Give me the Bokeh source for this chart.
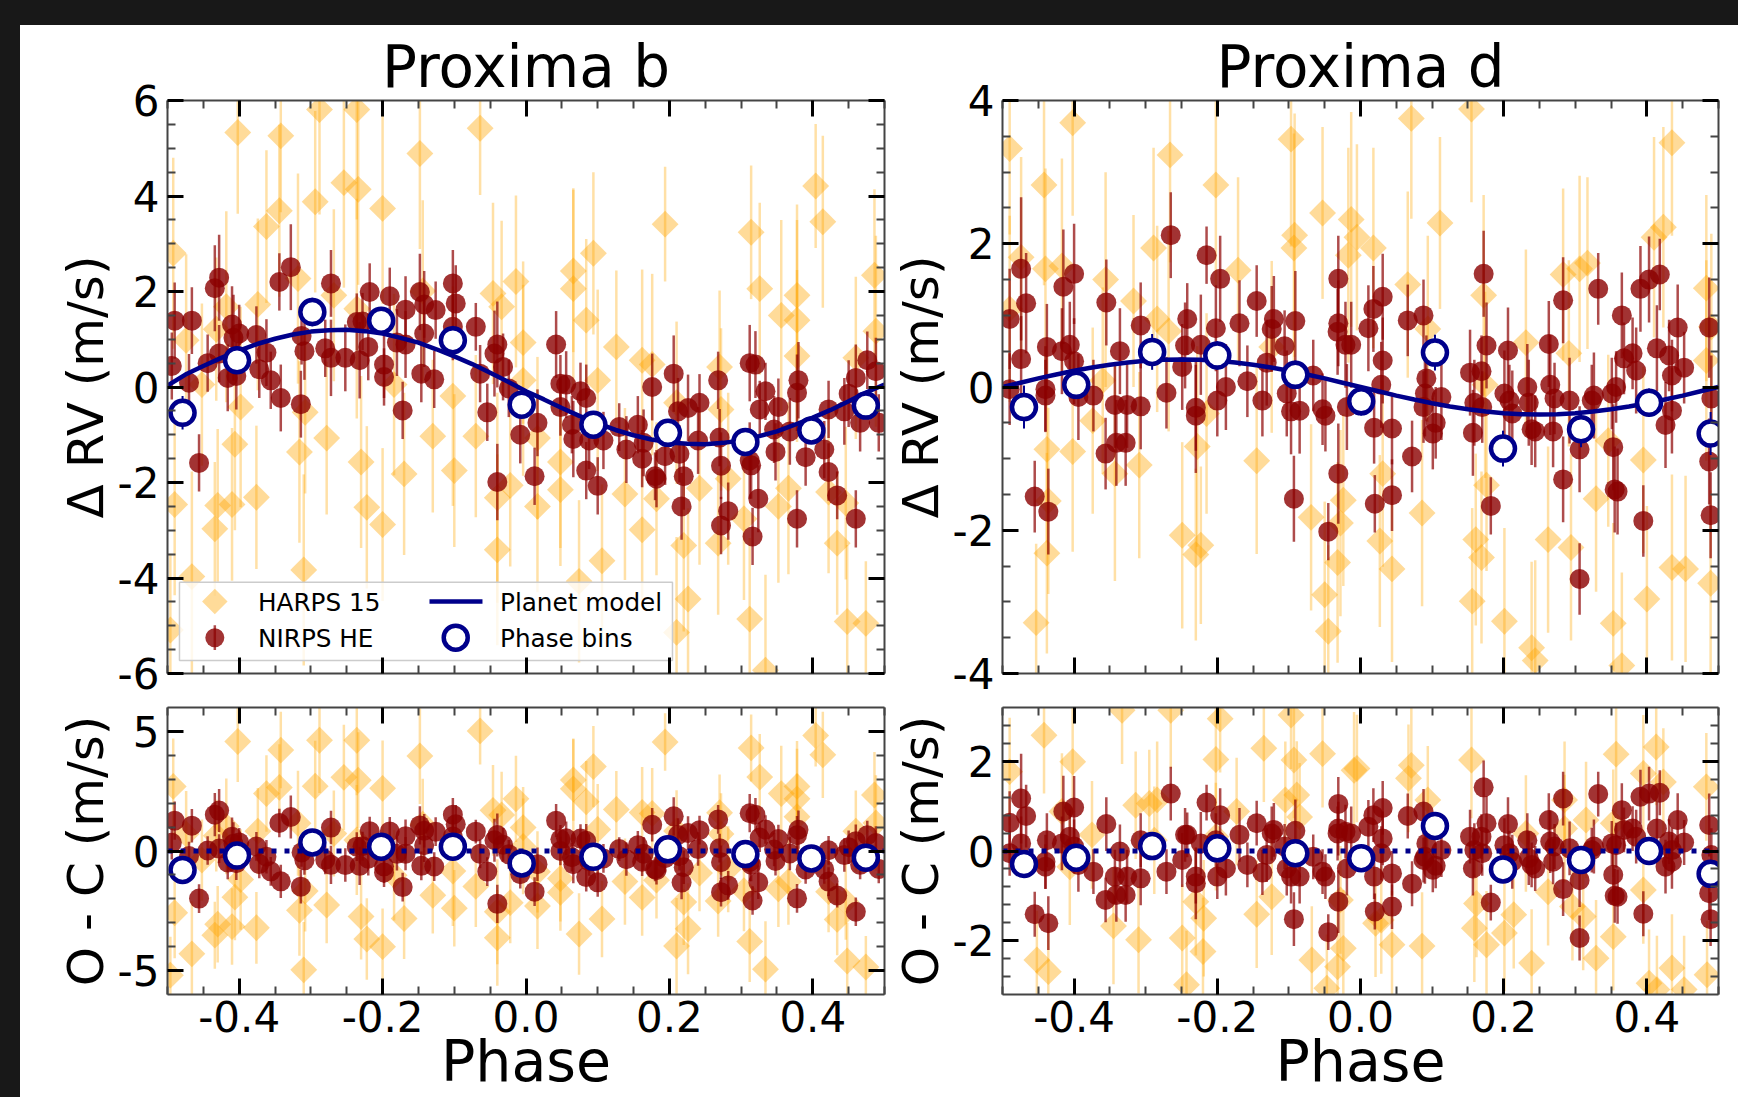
import numpy as np
from bokeh.plotting import figure
from bokeh.layouts import column, row
from bokeh.models import LinearAxis, FixedTicker, Range1d, Legend, LegendItem
from bokeh.embed import file_html
from bokeh.resources import INLINE

# ---- tick labels
x_major = [-0.4, -0.2, 0.0, 0.2, 0.4]
x_minor = [-0.5, -0.45, -0.35, -0.3, -0.25, -0.15, -0.1, -0.05, 0.05, 0.1, 0.15, 0.25, 0.3, 0.35, 0.45, 0.5]
x_labels = {-0.4: "-0.4", -0.2: "-0.2", 0.0: "0.0", 0.2: "0.2", 0.4: "0.4"}

# ---- model curves
model_phase = [-.5,-.475,-.45,-.425,-.4,-.375,-.35,-.325,-.3,-.275,-.25,-.225,-.2,-.175,-.15,-.125,-.1,-.075,-.05,-.025,0,
               .025,.05,.075,.1,.125,.15,.175,.2,.225,.25,.275,.3,.325,.35,.375,.4,.425,.45,.475,.5]
b_model = [.03,.26,.44,.61,.76,.90,1.01,1.10,1.16,1.19,1.20,1.17,1.12,1.03,.93,.79,.64,.48,.30,.11,-.09,
           -.26,-.44,-.61,-.76,-.90,-1.01,-1.10,-1.16,-1.19,-1.20,-1.17,-1.12,-1.03,-.93,-.79,-.64,-.48,-.30,-.11,.05]
d_model = [0,.06,.12,.175,.226,.272,.311,.343,.366,.38,.385,.38,.366,.343,.311,.272,.226,.175,.12,.06,0,
           -.06,-.12,-.175,-.226,-.272,-.311,-.343,-.366,-.38,-.385,-.38,-.366,-.343,-.311,-.272,-.226,-.175,-.12,-.06,0]
zero_phase = [-.5, .5]
zero_line = [0, 0]

# ---- Proxima b, NIRPS HE
b_nirps_phase = [-.494,-.490,-.466,-.470,-.456,-.444,-.434,-.428,-.428,-.416,
 -.410,-.408,-.400,-.404,-.376,-.372,-.362,-.356,-.344,-.342,
 -.328,-.314,-.313,-.309,-.280,-.272,-.272,-.252,-.232,-.236,
 -.228,-.220,-.218,-.198,-.198,-.190,-.180,-.168,-.168,-.172,
 -.148,-.142,-.142,-.146,-.128,-.126,-.102,-.098,-.102,-.070,
 -.064,-.054,-.040,-.044,-.032,-.024,-.040,-.008,.012,.016,
 .042,.048,.048,.056,.064,.066,.076,.084,.084,.088,
 .100,.108,.130,.140,.156,.162,.164,.176,.180,.182,
 .194,.206,.212,.214,.220,.217,.226,.240,.242,.268,
 .270,.272,.272,.282,.312,.320,.312,.314,.324,.316,
 .326,.334,.348,.352,.346,.368,.378,.380,.378,.390,
 .416,.422,.422,.434,.444,.450,.460,.460,.466,.476,
 .488,.492]
b_nirps_rv = [.44,1.39,1.39,.09,-1.59,.50,2.07,2.29,.70,.19,
 1.31,1.03,1.12,.23,1.09,.37,.72,.14,2.20,-.23,
 2.51,-.36,1.07,.75,.81,2.17,.61,.61,.56,1.36,
 1.37,.84,1.99,.47,.21,1.90,.93,1.62,.89,-.49,
 1.99,1.73,1.12,.28,.16,1.61,2.17,1.75,1.26,1.26,
 .28,-.53,.89,.70,.42,-.03,-1.99,-1.00,-1.87,-.75,
 .89,.07,-.42,.05,-.79,-1.09,-.09,-.23,-1.75,-1.12,
 -2.07,-1.12,-.84,-1.31,-.79,-1.50,-1.17,0,-1.87,-1.92,
 -1.45,.28,-.51,-1.40,-1.87,-2.50,-.44,-1.12,-.33,.14,
 -1.06,-1.65,-2.90,-2.60,.50,.47,-1.54,-1.64,-2.34,-3.13,
 -.47,-.09,-1.36,-.42,-.89,-.93,-2.76,.14,-.12,-1.47,
 -1.31,-1.78,-.47,-2.27,-.51,-.14,.19,-2.76,-.75,.56,
 .33,-.75]
b_nirps_res = [.34,1.27,1.06,-.21,-1.99,.02,1.52,1.69,.10,-.48,
 .60,.30,.36,-.51,.19,-.54,-.24,-.85,1.17,-1.27,
 1.42,-1.49,-.06,-.39,-.37,.98,-.58,-.59,-.62,.18,
 .20,-.32,.83,-.64,-.90,.82,-.12,.62,-.11,-1.51,
 1.07,.85,.24,-.62,-.65,.81,1.52,1.12,.61,.81,
 -.12,-.86,.67,.45,.26,-.14,-2.21,-.97,-1.70,-.55,
 1.27,.49,0,.53,-.26,-.55,.52,.43,-1.09,-.43,
 -1.31,-.31,.08,-.34,.24,-.45,-.11,1.10,-.76,-.80,
 -.30,1.45,.67,-.22,-.68,-1.32,.75,.08,.87,1.32,
 .12,-.47,-1.72,-1.44,1.58,1.52,-.46,-.57,-1.31,-2.07,
 .56,.90,-.42,.50,.06,-.10,-1.98,.89,.66,-.77,
 -.77,-1.28,.03,-1.86,-.17,.16,.41,-2.54,-.58,.66,
 .33,-.75]
b_nirps_err = [.7,.8,.7,.6,.6,.6,.9,.9,.6,.7,
 .8,.9,.6,.7,.6,.6,.7,.6,.6,.7,
 .9,.7,.6,.6,.6,.7,.8,.7,.8,.6,
 .6,.7,.6,.7,.6,.6,.7,.7,.7,.6,
 .8,.7,.7,.6,.6,.6,.7,.8,.7,.5,
 .6,.6,.9,.9,.7,.6,.8,.6,.6,.7,
 .7,.6,.6,.7,.6,.8,.6,.7,.6,.6,
 .6,.6,.5,.7,.6,.6,.7,.7,.5,.6,
 .6,.8,.7,.6,.7,.7,.7,.7,.6,.6,
 .6,.7,.6,.6,.8,.7,.8,.7,.7,.6,
 .6,.6,.6,.6,.7,.7,.6,.8,.8,.6,
 .6,.6,.6,.5,.7,.7,.7,.6,.6,.6,
 .7,.6]

# ---- Proxima b, HARPS 15
b_harps_phase = [-.492,-.49,-.496,-.474,-.466,-.452,-.434,-.43,-.432,-.418,
 -.41,-.406,-.402,-.398,-.376,-.374,-.362,-.344,-.342,-.318,
 -.316,-.31,-.308,-.294,-.288,-.278,-.268,-.254,-.236,-.234,
 -.23,-.222,-.2,-.2,-.236,-.184,-.17,-.148,-.144,-.13,
 -.102,-.1,-.07,-.064,-.046,-.04,-.04,-.034,-.022,-.014,
 -.004,-.004,.016,.016,.048,.048,.066,.066,.074,.084,
 .094,.1,.106,.126,.138,.162,.162,.176,.182,.194,
 .21,.21,.22,.226,.242,.268,.27,.272,.282,.304,
 .312,.314,.326,.334,.352,.356,.366,.378,.378,.378,
 .404,.414,.422,.434,.446,.448,.46,.474,.486,.488]
b_harps_rv = [2.80,-2.46,-5.09,.98,-3.97,.05,-2.97,-2.48,1.21,1.68,
 -2.46,-1.20,5.33,-.42,-2.31,1.73,3.36,3.69,5.26,2.27,
 -1.36,-3.83,-.53,3.88,5.81,-1.07,1.92,4.28,5.81,4.14,
 -1.57,-2.52,3.74,-2.88,1.64,.05,-1.82,4.89,2.01,-1.03,
 -.19,-1.75,-1.03,5.42,1.96,-3.41,-2.32,1.68,-2.06,2.21,
 .93,.14,-2.50,-1.07,-1.57,-2.15,2.43,2.06,-4.07,1.40,
 2.80,.14,-3.64,.84,-2.24,.56,-2.99,.47,-2.34,3.41,
 -.33,-5.14,-3.32,-4.44,-2.12,-3.27,.42,-.47,-1.92,-2.76,
 -4.86,3.24,2.06,-5.93,-2.50,1.50,-2.12,1.40,1.92,.65,
 4.21,3.46,-2.20,-3.27,-2.43,-4.91,.61,-4.95,2.34,1.17]
b_harps_res = [2.70,-2.58,-5.19,.71,-4.30,-.38,-3.52,-3.06,.64,1.03,
 -3.16,-1.93,4.58,-1.19,-3.21,.83,2.40,2.66,4.22,1.16,
 -2.48,-4.97,-1.67,2.71,4.63,-2.26,.73,3.08,4.63,2.96,
 -2.74,-3.68,2.62,-4.00,.46,-1.01,-2.82,3.97,1.12,-1.85,
 -.84,-2.39,-1.48,5.02,1.70,-3.63,-2.54,1.51,-2.16,2.18,
 .98,.19,-2.30,-.87,-1.15,-1.73,2.97,2.60,-3.47,2.06,
 3.53,.90,-2.84,1.74,-1.28,1.61,-1.94,1.57,-1.22,4.56,
 .84,-3.97,-2.13,-3.25,-.92,-2.09,1.60,.71,-.76,-1.66,
 -3.78,4.31,3.09,-4.94,-1.58,2.40,-1.28,2.18,2.70,1.43,
 4.83,4.02,-1.70,-2.86,-2.11,-4.60,.83,-4.85,2.34,1.17]
b_harps_err = [2.0,1.9,1.6,1.8,2.2,1.7,1.4,1.6,1.5,2.0,
 1.6,1.8,1.7,2.1,1.5,1.8,1.6,1.8,1.6,2.2,
 1.9,2.0,1.7,1.9,2.2,1.6,1.8,2.2,2.3,2.0,
 1.8,1.7,2.0,1.6,2.3,1.9,1.7,2.0,1.9,1.6,
 2.3,1.6,1.7,1.4,1.9,2.0,2.2,1.8,1.7,1.8,
 1.7,2.0,1.8,1.7,1.8,1.6,1.7,2.1,1.7,1.7,
 1.7,1.9,1.6,1.6,1.8,1.9,1.6,1.9,1.6,1.2,
 1.7,2.0,1.8,1.9,1.6,1.5,1.6,1.7,1.8,1.7,
 1.7,1.4,1.8,2.0,1.6,2.0,1.8,2.1,1.9,1.8,
 1.3,1.8,1.7,1.5,1.6,1.6,1.7,1.3,1.8,2.0]

b_bin_phase = [-.479,-.403,-.298,-.202,-.102,-.006,.094,.198,.306,.398,.474]
b_bin_rv = [-.54,.56,1.57,1.39,.98,-.37,-.79,-.96,-1.15,-.91,-.39]
b_bin_res = [-.79,-.19,.36,.18,.18,-.52,-.24,.07,-.13,-.31,-.28]
b_bin_err = [.35,.25,.3,.25,.3,.2,.2,.2,.25,.2,.2]

# ---- Proxima d, NIRPS HE
d_nirps_phase = [-.490,-.49,-.474,-.474,-.467,-.455,-.44,-.44,-.438,-.436,
 -.415,-.417,-.406,-.4,-.4,-.394,-.373,-.355,-.356,-.343,
 -.341,-.336,-.328,-.326,-.307,-.307,-.271,-.265,-.249,-.245,
 -.242,-.23,-.23,-.223,-.215,-.202,-.2,-.196,-.188,-.169,
 -.158,-.145,-.137,-.131,-.124,-.121,-.106,-.103,-.097,-.093,
 -.091,-.085,-.066,-.053,-.049,-.045,-.031,-.031,-.031,-.032,
 -.021,-.013,-.019,.011,.018,.019,.02,.031,.031,.029,
 .044,.044,.066,.072,.088,.092,.09,.088,.101,.105,
 .113,.153,.159,.157,.169,.17,.172,.176,.182,.201,
 .206,.208,.212,.233,.235,.239,.244,.263,.265,.269,
 .271,.283,.283,.292,.306,.306,.323,.332,.326,.353,
 .351,.357,.359,.355,.365,.368,.38,.385,.391,.395,
 .403,.414,.418,.426,.431,.435,.435,.443,.452,.487,
 .487,.489,.49]
d_nirps_rv = [.95,-.03,1.65,.39,1.17,-1.53,-.03,-.12,.56,-1.74,
 1.40,.50,.59,1.58,.36,-.14,-.12,1.18,-.93,-.25,
 -.78,.50,-.78,-.25,.86,-.27,-.08,2.12,.28,.58,
 .95,-.29,-.40,.59,1.84,.82,-.19,1.51,0,.89,
 .08,1.20,-.19,.34,.81,.95,.57,-.09,-.34,-1.56,
 .92,-.33,.16,-.31,-.40,-2.02,1.51,.89,-1.21,.77,
 .59,.59,-.28,.82,1.09,-.57,-1.63,1.26,.37,.03,
 -.58,-1.51,.93,-.97,1.00,.12,-.09,-.28,-.65,-.50,
 -.14,.20,-.22,-.64,.22,-.28,1.58,.58,-1.66,-.09,
 .51,-.19,-.37,0,-.22,-.59,-.62,.60,.03,-.62,
 -.16,1.21,-1.29,-.19,-.87,-2.68,-.19,1.37,-.12,-.84,
 -.09,0,-1.46,-1.43,1.00,.40,.47,.23,1.37,-1.87,
 1.50,.54,1.57,-.53,.44,.16,-.33,.83,.27,.83,
 -1.04,-1.79,-.16]
d_nirps_res = [.63,-.05,1.17,.17,.78,-1.41,-.24,-.35,.24,-1.61,
 .88,.17,.32,.97,.10,-.31,-.46,.60,-1.09,-.57,
 -.98,-.01,-.98,-.57,.24,-.61,-.46,1.28,-.20,.36,
 .36,-.57,-.72,.17,1.08,.24,-.57,.80,-.39,.36,
 -.31,.62,-.48,-.09,.39,.47,.10,-.39,-.57,-1.52,
 .45,-.57,-.13,-.46,-.57,-1.81,1.05,.50,-1.13,.39,
 .43,.39,-.39,.54,.80,-.57,-1.35,.96,.28,-.05,
 -.50,-1.24,.78,-.73,.88,.17,-.13,-.20,-.42,-.33,
 .02,.32,.02,-.39,.32,-.05,1.42,.62,-1.15,.13,
 .60,-.05,-.24,.24,-.16,-.31,-.39,.69,.21,-.24,
 .10,1.17,-.85,.06,-.65,-1.94,.02,1.27,.10,-.53,
 .17,.13,-1.02,-1.00,.91,.47,.50,.32,1.21,-1.40,
 1.28,.50,1.30,-.35,.21,.02,-.24,.69,.19,.58,
 -.94,-1.52,-.09]
d_nirps_err = [.7,.5,1.0,.6,.7,.5,.6,.5,.6,.6,
 .8,.6,.6,.7,.6,.6,.5,.6,.5,.6,
 .6,.6,.6,.6,.6,.6,.5,.6,.6,.6,
 .5,.6,.8,.7,.4,.6,.5,.6,.6,.6,
 .5,.5,.5,.6,.6,.6,.5,.6,.6,.6,
 .7,.6,.5,.5,.5,.4,.6,.6,.7,.6,
 .6,.6,.6,.6,.6,.5,.4,.6,.6,.6,
 .5,.5,.5,.5,.5,.6,.6,.5,.5,.5,
 .6,.6,.6,.6,.5,.5,.6,.6,.4,.6,
 .6,.5,.6,.6,.6,.5,.5,.6,.7,.5,
 .5,.6,.6,.6,.6,.5,.5,.5,.6,.6,
 .5,.5,.6,.6,.6,.5,.5,.6,.6,.5,
 .6,.6,.5,.6,.5,.5,.6,.6,.5,.7,
 .6,.6,.6]

# ---- Proxima d, HARPS 15 (upper panel)
d_harps_phase = [-.49,-.49,-.474,-.453,-.442,-.44,-.438,-.438,-.436,-.417,
 -.402,-.402,-.374,-.356,-.36,-.343,-.317,-.309,-.289,-.284,
 -.266,-.268,-.249,-.23,-.223,-.228,-.215,-.202,-.171,-.145,
 -.124,-.097,-.092,-.093,-.069,-.053,-.05,-.045,-.032,-.024,
 -.028,-.013,-.017,-.005,.018,.027,.031,.044,.066,.071,
 .086,.094,.111,.155,.156,.161,.169,.172,.176,.174,
 .201,.231,.239,.244,.262,.283,.291,.294,.306,.317,
 .329,.346,.353,.365,.395,.4,.41,.423,.435,.435,
 .454,.483,.483,.489,.49]
d_harps_rv = [3.33,1.09,1.81,-3.29,2.82,1.65,-.87,-2.32,-1.59,1.69,
 3.69,-.90,-.47,1.50,.09,-1.21,1.20,-1.09,1.94,.95,
 3.24,.78,-2.07,-2.34,-2.21,-.83,-.37,2.82,1.63,-1.03,
 .56,3.46,2.12,1.94,-1.82,2.43,-2.90,-3.41,-2.45,-1.58,
 -1.90,2.34,1.84,2.09,1.94,-2.15,-1.21,-2.54,1.43,3.75,
 -1.76,.81,2.29,3.88,-2.99,-2.13,-2.38,1.28,-1.37,.03,
 -3.27,.62,-3.64,-3.82,-2.13,1.57,.47,-2.24,1.65,1.73,
 -1.56,-.75,-3.30,-3.89,-1.02,-2.96,2.09,2.23,3.41,-2.52,
 -2.54,1.38,.37,-2.74,.84]
d_harps_err = [1.2,1.3,1.4,1.1,1.4,1.4,1.3,1.4,1.3,1.5,
 1.3,1.4,1.3,1.5,1.3,1.5,1.2,1.3,1.4,1.3,
 1.5,1.4,1.3,1.2,1.1,1.4,1.4,1.4,1.3,1.3,
 1.2,1.5,1.7,1.6,1.3,1.2,1.3,1.2,1.4,1.2,
 1.3,1.5,1.5,1.3,1.4,1.2,1.3,1.3,1.3,1.4,
 1.3,1.3,1.2,1.3,1.3,1.2,1.2,1.4,1.2,1.3,
 1.3,1.3,1.2,1.4,1.3,1.2,1.3,1.3,1.3,1.2,
 1.3,1.2,1.4,1.3,1.3,1.3,1.4,1.4,1.3,1.3,
 1.3,1.3,1.4,1.3,1.3]

# ---- Proxima d, HARPS 15 (lower panel)
d_harps_res_phase = [-.49,-.452,-.442,-.436,-.417,-.402,-.406,-.375,-.345,-.31,
 -.314,-.295,-.284,-.288,-.265,-.249,-.243,-.23,-.219,-.22,
 -.202,-.196,-.202,-.173,-.145,-.135,-.124,-.105,-.097,-.093,
 -.085,-.089,-.068,-.053,-.047,-.032,-.024,-.028,-.009,-.005,
 .021,.029,.044,.067,.071,.086,.094,.159,.155,.162,
 .176,.201,.214,.231,.239,.262,.285,.285,.296,.311,
 .315,.329,.353,.357,.353,.395,.395,.403,.413,.423,
 .435,.452,.483,.484,.414,-.333]
d_harps_res = [1.77,-2.43,2.58,-2.69,.88,1.99,-.35,.36,-1.67,-1.98,
 1.02,1.06,1.14,.24,3.14,-1.94,-2.98,-1.13,-1.50,-2.24,
 2.04,2.95,.32,.88,-1.41,2.29,-1.02,1.14,3.03,2.03,
 .76,1.25,-2.43,2.17,-3.06,-2.58,-2.17,-1.09,1.80,1.84,
 -1.61,-1.54,-2.09,1.62,1.91,-2.12,1.14,-1.72,2.03,-1.17,
 -2.09,-1.83,-1.42,.39,-2.50,-.91,.50,1.14,-1.24,-1.46,
 .69,-2.39,-1.91,2.16,.62,1.73,-.87,-2.95,2.32,1.54,
 -2.61,-3.09,1.43,-2.76,-3.09,3.14]
d_harps_res_err = [1.2,1.1,1.3,1.2,1.3,1.2,1.3,1.2,1.3,1.2,
 1.2,1.2,1.3,1.2,1.3,1.2,1.2,1.2,1.3,1.2,
 1.3,1.2,1.2,1.2,1.2,1.2,1.3,1.3,1.2,1.3,
 1.2,1.2,1.2,1.2,1.2,1.3,1.3,1.2,1.3,1.2,
 1.2,1.2,1.2,1.2,1.3,1.2,1.2,1.2,1.3,1.2,
 1.2,1.3,1.2,1.3,1.2,1.2,1.2,1.3,1.2,1.2,
 1.3,1.3,1.2,1.3,1.2,1.3,1.2,1.2,1.3,1.2,
 1.2,1.2,1.2,1.2,1.2,1.2]

d_bin_phase = [-.47,-.397,-.291,-.2,-.091,.001,.104,.199,.308,.403,.489]
d_bin_rv = [-.28,.03,.49,.44,.17,-.2,.48,-.86,-.59,-.22,-.65]
d_bin_res = [-.29,-.15,.11,.06,-.05,-.16,.56,-.41,-.2,0,-.51]
d_bin_err = [.3,.2,.25,.2,.2,.2,.25,.25,.25,.2,.3]

NAVY = "#00008b"
FONT = "DejaVu Sans"


def panel(title, harps_ph, harps_y, harps_e, nirps_ph, nirps_y, nirps_e,
          bin_ph, bin_y, bin_e, mod_x, mod_y, mod_dash, ylim, ymaj, ymin, ylabel,
          width, height, left, right, top, bottom, show_x, legend=False):
    p = figure(width=width, height=height, x_range=Range1d(-0.5, 0.5), y_range=Range1d(*ylim),
               output_backend="svg", toolbar_location=None, x_axis_location=None, y_axis_location=None,
               min_border_left=left, min_border_right=right, min_border_top=top, min_border_bottom=bottom,
               background_fill_color="white", border_fill_color="white", outline_line_color=None)
    p.grid.visible = False
    if title:
        p.title.text = title
        p.title.align = "center"
        p.title.text_font = FONT
        p.title.text_font_size = "58px"
        p.title.text_font_style = "normal"
        p.title.text_color = "black"
        p.title.standoff = 0
    ylabels = {v: str(v) for v in ymaj}
    for side in ("left", "right", "above", "below"):
        horiz = side in ("above", "below")
        ax = LinearAxis(ticker=FixedTicker(ticks=x_major if horiz else ymaj, minor_ticks=x_minor if horiz else ymin))
        ax.major_tick_in = 16
        ax.major_tick_out = 0
        ax.minor_tick_in = 8
        ax.minor_tick_out = 0
        ax.major_tick_line_color = "black"
        ax.major_tick_line_width = 3
        ax.minor_tick_line_color = "#444444"
        ax.minor_tick_line_width = 2
        ax.axis_line_color = "#444444"
        ax.axis_line_width = 2
        labelled = (side == "left") or (side == "below" and show_x)
        if labelled:
            ax.major_label_text_font = FONT
            ax.major_label_text_font_size = "42px"
            ax.major_label_text_color = "black"
            ax.major_label_overrides = x_labels if horiz else ylabels
            ax.axis_label_text_font = FONT
            ax.axis_label_text_font_style = "normal"
            ax.axis_label_text_color = "black"
            if horiz:
                ax.major_label_standoff = 6
                ax.axis_label = "Phase"
                ax.axis_label_text_font_size = "57px"
                ax.axis_label_text_line_height = 0.64
                ax.axis_label_standoff = -7
            else:
                ax.major_label_standoff = 8
                ax.axis_label = ylabel
                ax.axis_label_text_font_size = "50px"
                ax.axis_label_standoff = 0
        else:
            ax.major_label_text_font_size = "0px"
            ax.major_label_text_color = None
        p.add_layout(ax, side)

    hy = np.array(harps_y); he = np.array(harps_e)
    p.segment(harps_ph, hy - he, harps_ph, hy + he, line_color="orange", line_alpha=0.35, line_width=2.5)
    p.scatter(harps_ph, harps_y, marker="square", angle=np.pi / 4, size=19,
              fill_color="orange", fill_alpha=0.4, line_color=None)
    ny = np.array(nirps_y); ne = np.array(nirps_e)
    p.segment(nirps_ph, ny - ne, nirps_ph, ny + ne, line_color="darkred", line_alpha=0.7, line_width=2.5)
    p.scatter(nirps_ph, nirps_y, marker="circle", size=20,
              fill_color="darkred", fill_alpha=0.8, line_color=None)
    if mod_dash:
        p.line(mod_x, mod_y, line_color=NAVY, line_width=5, line_dash=mod_dash)
    else:
        p.line(mod_x, mod_y, line_color=NAVY, line_width=4.5)
    by = np.array(bin_y); be = np.array(bin_e)
    p.segment(bin_ph, by - be, bin_ph, by + be, line_color=NAVY, line_width=2)
    p.scatter(bin_ph, bin_y, marker="circle", size=24, fill_color="white",
              line_color=NAVY, line_width=4.5)
    if legend:
        # The box and the keys are glyphs above the data; the Legend carries the labels,
        # since Bokeh scales a legend's own markers down and cannot turn them.
        p.quad(left=[-.4833], right=[.2043], top=[-4.09], bottom=[-5.73], fill_color="white",
               fill_alpha=0.8, line_color="#cccccc", line_width=1.5)
        blank_h = p.scatter([], [], marker="square", fill_alpha=0, line_alpha=0)
        blank_n = p.scatter([], [], marker="circle", fill_alpha=0, line_alpha=0)
        blank_l = p.line([], [], line_alpha=0)
        blank_b = p.scatter([], [], marker="circle", fill_alpha=0, line_alpha=0)
        lg = Legend(items=[LegendItem(label="HARPS 15", renderers=[blank_h]),
                           LegendItem(label="NIRPS HE", renderers=[blank_n]),
                           LegendItem(label="Planet model", renderers=[blank_l]),
                           LegendItem(label="Phase bins", renderers=[blank_b])],
                    location=(15, 17), ncols=2, padding=5, margin=0, spacing=0,
                    glyph_width=65, glyph_height=36, label_height=36, label_width=166,
                    label_standoff=11, label_text_font=FONT, label_text_font_size="24.7px",
                    label_text_color="black", background_fill_alpha=0, border_line_color=None)
        p.add_layout(lg, "center")
        p.scatter([-.434], [-4.49], marker="square", angle=np.pi / 4, size=18, fill_color="orange",
                  fill_alpha=0.4, line_color=None)
        p.segment([-.434], [-5.51], [-.434], [-4.99], line_color="darkred", line_alpha=0.7, line_width=2.5)
        p.scatter([-.434], [-5.25], marker="circle", size=19, fill_color="darkred", fill_alpha=0.8,
                  line_color=None)
        p.line([-.1346, -.0607], [-4.49, -4.49], line_color=NAVY, line_width=4.5)
        p.scatter([-.098], [-5.25], marker="circle", size=24, fill_color="white", line_color=NAVY,
                  line_width=4.5)
    return p


yb_minor = [-5.5, -5, -4.5, -3.5, -3, -2.5, -1.5, -1, -.5, .5, 1, 1.5, 2.5, 3, 3.5, 4.5, 5, 5.5]
yd_minor = [-3.5, -3, -2.5, -1.5, -1, -.5, .5, 1, 1.5, 2.5, 3, 3.5]

p1 = panel("Proxima b", b_harps_phase, b_harps_rv, b_harps_err, b_nirps_phase, b_nirps_rv, b_nirps_err,
           b_bin_phase, b_bin_rv, b_bin_err, model_phase, b_model, None, (-6, 6), [-6, -4, -2, 0, 2, 4, 6],
           yb_minor, "\u0394 RV (m/s)", 867, 676, 147, 3, 75, 28, False, legend=True)
p2 = panel("Proxima d", d_harps_phase, d_harps_rv, d_harps_err, d_nirps_phase, d_nirps_rv, d_nirps_err,
           d_bin_phase, d_bin_rv, d_bin_err, model_phase, d_model, None, (-4, 4), [-4, -2, 0, 2, 4],
           yd_minor, "\u0394 RV (m/s)", 843, 676, 115, 12, 75, 28, False)
p3 = panel(None, b_harps_phase, b_harps_res, b_harps_err, b_nirps_phase, b_nirps_res, b_nirps_err,
           b_bin_phase, b_bin_res, b_bin_err, zero_phase, zero_line, "5 8", (-6, 6), [-5, 0, 5],
           [-4, -3, -2, -1, 1, 2, 3, 4], "O - C (m/s)", 867, 396, 147, 3, 6, 103, True)
p4 = panel(None, d_harps_res_phase, d_harps_res, d_harps_res_err, d_nirps_phase, d_nirps_res, d_nirps_err,
           d_bin_phase, d_bin_res, d_bin_err, zero_phase, zero_line, "5 8", (-3.2, 3.2), [-2, 0, 2],
           [-2.8, -2.4, -1.6, -1.2, -.8, -.4, .4, .8, 1.2, 1.6, 2.4, 2.8], "O - C (m/s)", 843, 396, 115, 12, 6, 103, True)

page = column(row(p1, p2), row(p3, p4), margin=(25, 0, 0, 20))
html = file_html(page, INLINE)
style = ("<style>html{background:linear-gradient(90deg,#181818 20px,transparent 20px),"
         "linear-gradient(180deg,#181818 25px,#ffffff 25px);}</style>")
html = html.replace("<head>", "<head>" + style, 1)
open("out.html", "w").write(html)
